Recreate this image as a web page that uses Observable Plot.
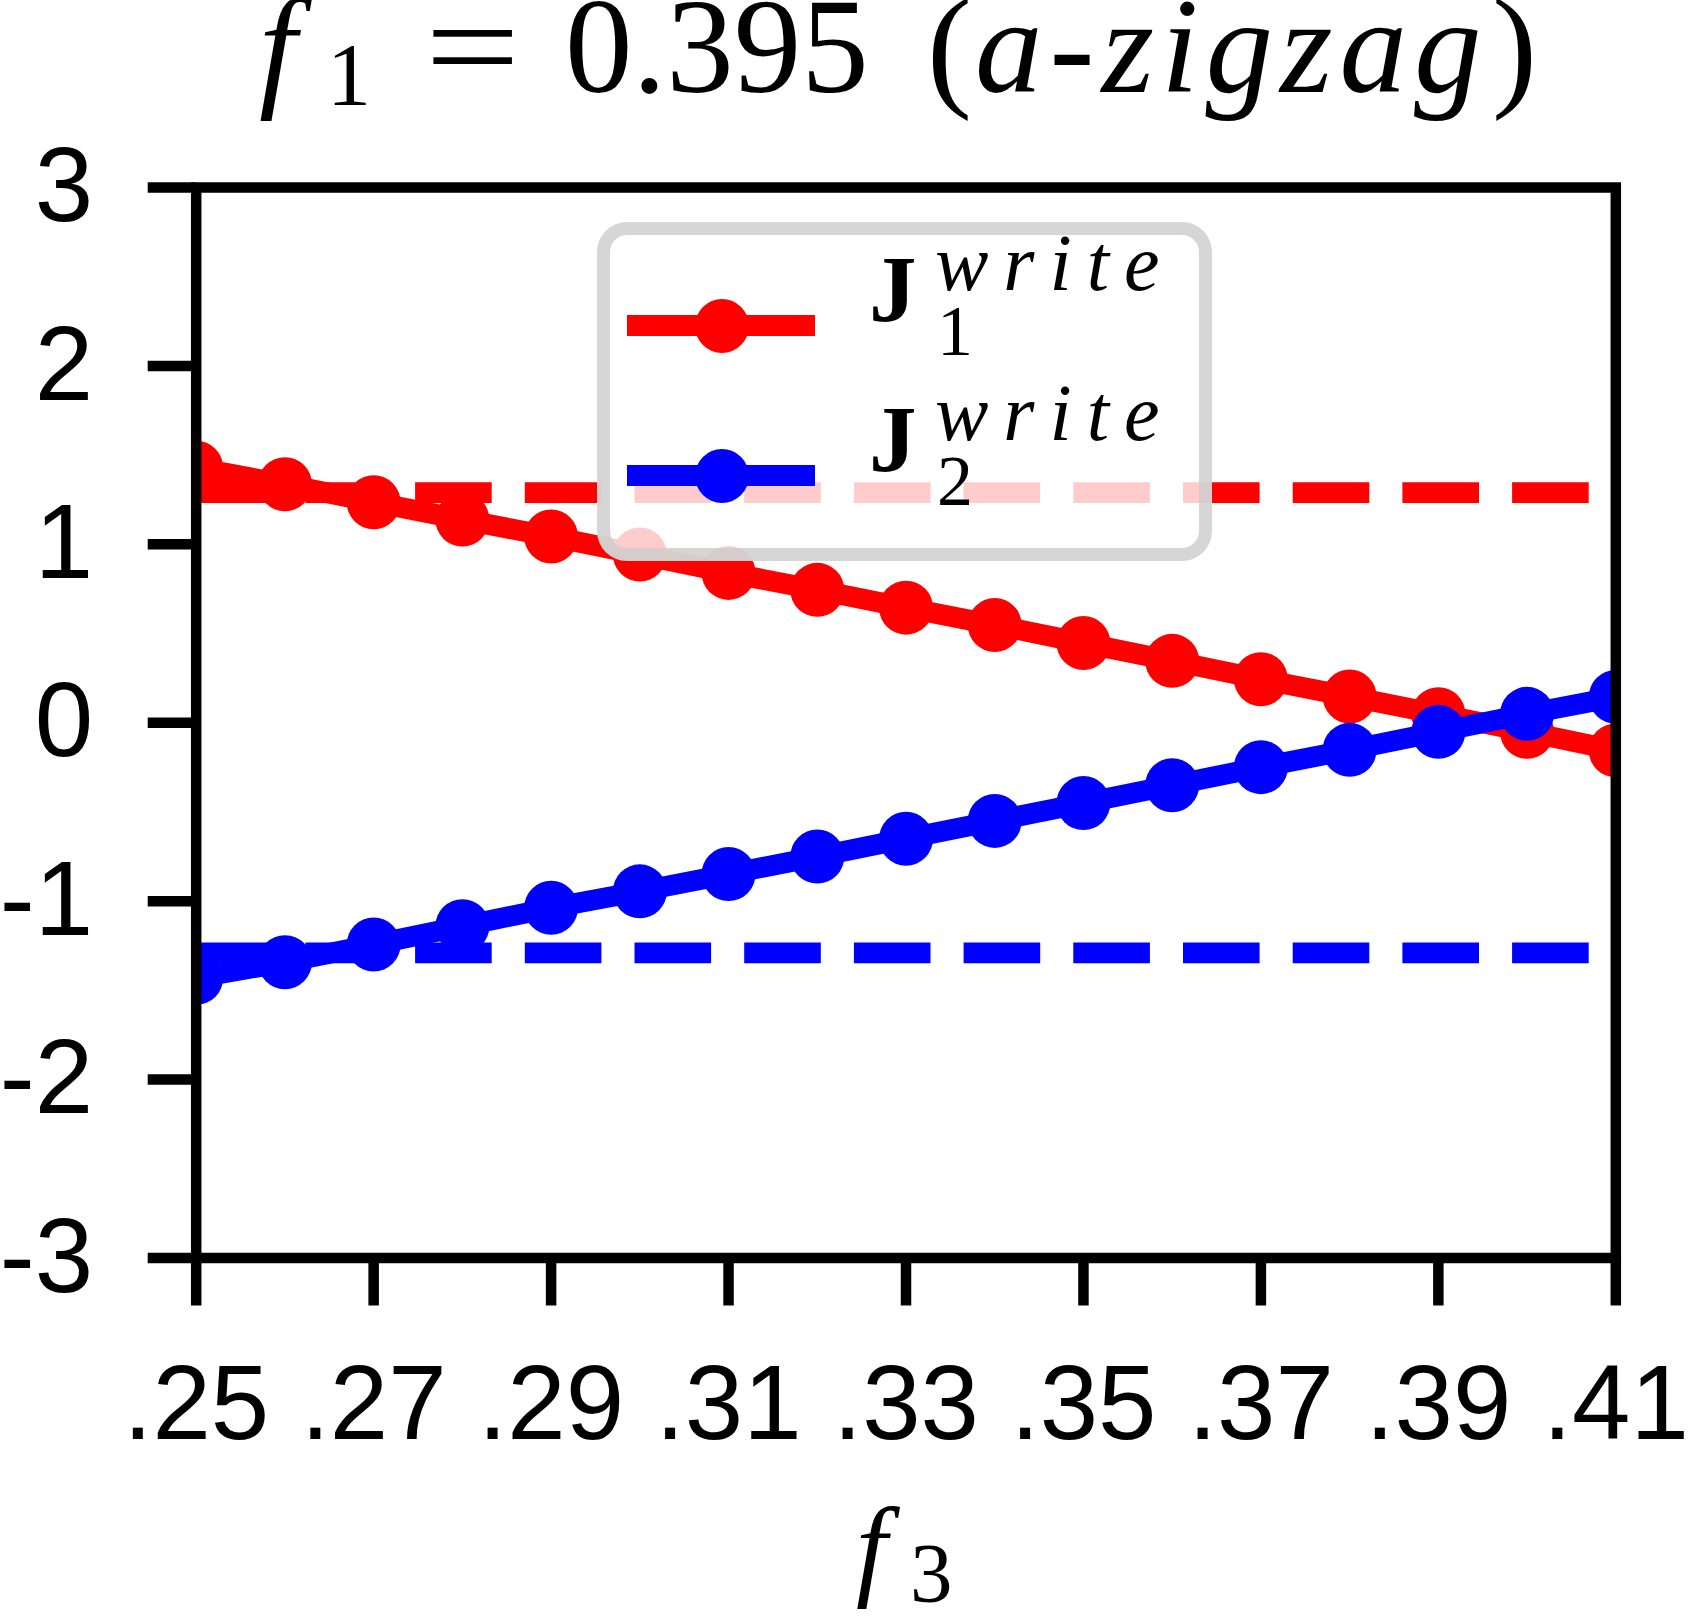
<!DOCTYPE html>
<html><head><meta charset="utf-8">
<script src="https://cdn.jsdelivr.net/npm/d3@7"></script>
<script src="https://cdn.jsdelivr.net/npm/@observablehq/plot@0.6"></script>
<style>
html,body{margin:0;padding:0;background:#fff;}
#fig{position:relative;width:1690px;height:1624px;overflow:hidden;background:#fff;}
#title{position:relative;height:150px;}
#chart{height:1330px;}
#xlabel{position:relative;height:144px;}
.p{position:absolute;white-space:nowrap;font-family:"Liberation Serif","DejaVu Serif",serif;color:#000;}
.m{font-size:135px;line-height:93px;top:0;}
.i{font-style:italic;}
#legend{position:absolute;left:597.3px;top:222.3px;width:615px;height:338.4px;box-sizing:border-box;border:13.5px solid rgba(204,204,204,0.8);background:rgba(255,255,255,0.8);border-radius:30px;}
.hl{position:absolute;height:21px;width:188px;left:627px;}
.hc{position:absolute;width:54px;height:54px;left:694.7px;border-radius:50%;}
.J{font-size:95px;line-height:70px;font-weight:bold;left:869px;}
.sp{font-size:80px;line-height:50px;font-style:italic;left:935px;letter-spacing:15px;}
.sb{font-size:72px;line-height:50px;left:937px;}
</style></head><body>
<div id="fig">
  <div id="title">
    <span class="p m i" style="left:259px;">f</span>
    <span class="p" style="left:327px;top:45px;font-size:88px;line-height:60px;">1</span>
    <span class="p m" style="left:425px;transform:scaleX(1.25);transform-origin:0 0;">=</span>
    <span class="p m" style="left:565px;">0.395</span>
    <span class="p m" style="left:927px;">(</span>
    <span class="p m i" style="left:975px;letter-spacing:7px;">a-zigzag</span>
    <span class="p m" style="left:1492px;">)</span>
  </div>
  <div id="chart"></div>
  <div id="xlabel">
    <span class="p i" style="left:856px;top:27px;font-size:112px;line-height:80px;">f</span>
    <span class="p" style="left:910px;top:63px;font-size:85px;line-height:60px;">3</span>
  </div>
  <div id="legend"></div>
  <div class="hl" style="top:315px;background:#ff0000;"></div>
  <div class="hc" style="top:298.5px;background:#ff0000;"></div>
  <div class="hl" style="top:465px;background:#0000ff;"></div>
  <div class="hc" style="top:448.5px;background:#0000ff;"></div>
  <span class="p J" style="top:255px;">J</span>
  <span class="p sp" style="top:238px;">write</span>
  <span class="p sb" style="top:306px;">1</span>
  <span class="p J" style="top:405px;">J</span>
  <span class="p sp" style="top:388px;">write</span>
  <span class="p sb" style="top:456px;">2</span>
</div>
<script>
const f3 = [0.25,0.26,0.27,0.28,0.29,0.30,0.31,0.32,0.33,0.34,0.35,0.36,0.37,0.38,0.39,0.40,0.41];
const j1Write = [1.429,1.337,1.236,1.139,1.044,0.943,0.840,0.745,0.645,0.548,0.447,0.347,0.244,0.147,0.048,-0.051,-0.155];
const j2Write = [-1.43,-1.342,-1.243,-1.14,-1.037,-0.945,-0.848,-0.75,-0.65,-0.55,-0.45,-0.35,-0.249,-0.152,-0.051,0.050,0.145];
const j1Ref = [1.29];
const j2Ref = [-1.29];
const xTicks = [0.25,0.27,0.29,0.31,0.33,0.35,0.37,0.39,0.41];
const yTicks = [-3,-2,-1,0,1,2,3];

const s1 = f3.map((x,i)=>({x, y:j1Write[i]}));
const s2 = f3.map((x,i)=>({x, y:j2Write[i]}));
const RED = "#ff0000", BLUE = "#0000ff";
const LW = 20.7;

const chart = Plot.plot({
  width:1690, height:1330,
  marginTop:37, marginBottom:222.5, marginLeft:195.7, marginRight:74.7,
  x:{domain:[0.25,0.41]},
  y:{domain:[-3,3]},
  style:{fontFamily:"'Liberation Sans', Arial, sans-serif", fontSize:"105px", background:"white", color:"black", overflow:"visible"},
  marks:[
    Plot.line(s1,{x:"x",y:"y",stroke:RED,strokeWidth:LW,strokeLinejoin:"round",clip:true}),
    Plot.dot(s1,{x:"x",y:"y",r:27,fill:RED,clip:true}),
    Plot.line(s2,{x:"x",y:"y",stroke:BLUE,strokeWidth:LW,strokeLinejoin:"round",clip:true}),
    Plot.dot(s2,{x:"x",y:"y",r:27,fill:BLUE,clip:true}),
    Plot.ruleY(j1Ref,{stroke:RED,strokeWidth:LW,strokeDasharray:"76.6 33.1"}),
    Plot.ruleY(j2Ref,{stroke:BLUE,strokeWidth:LW,strokeDasharray:"76.6 33.1"}),
    Plot.axisX({ticks:xTicks, tickSize:48, tickPadding:58, strokeWidth:10.5, tickFormat:d=>d3.format(".2f")(d).replace(/^0/,""), label:null}),
    Plot.axisY({ticks:yTicks, tickSize:48, tickPadding:55, strokeWidth:10.5, tickFormat:d=>String(d), label:null}),
    Plot.frame({stroke:"black", strokeWidth:10.5})
  ]
});
document.getElementById("chart").appendChild(chart);
</script>
</body></html>
